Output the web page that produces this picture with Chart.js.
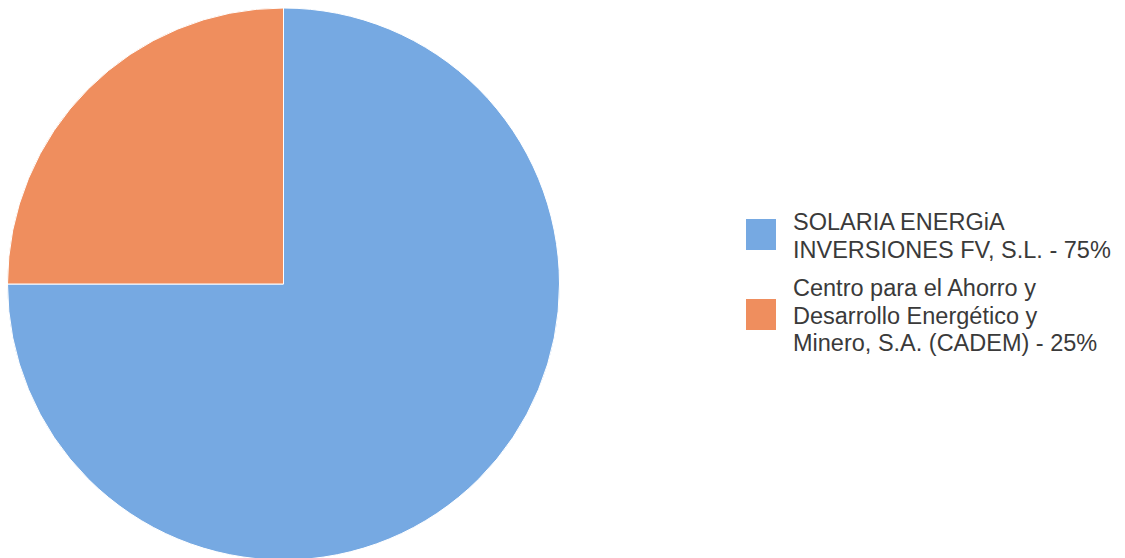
<!DOCTYPE html>
<html>
<head>
<meta charset="utf-8">
<script src="https://cdn.jsdelivr.net/npm/chart.js@4/dist/chart.umd.min.js"></script>
<style>
  html, body { margin: 0; padding: 0; background: #fff; width: 1125px; height: 558px; overflow: hidden; }
  #wrap { position: absolute; left: 0; top: 0; width: 567px; height: 568px; }
  #legend { position: absolute; left: 746px; top: 209px; font-family: "Liberation Sans", Arial, sans-serif; font-size: 23.5px; line-height: 27.5px; color: #3a3a3a; }
  .item { position: relative; padding-left: 47px; margin-bottom: 11px; white-space: nowrap; }
  .box { position: absolute; left: 0; width: 30px; height: 31px; }
</style>
</head>
<body>
<div id="wrap"><canvas id="c"></canvas></div>
<div id="legend"></div>
<script>
const categories = [
  ["SOLARIA ENERGiA", "INVERSIONES FV, S.L. - 75%"],
  ["Centro para el Ahorro y", "Desarrollo Energético y", "Minero, S.A. (CADEM) - 25%"]
];
const values = [75, 25];
const colors = ["#76A9E2", "#EF8E5E"];

const chart = new Chart(document.getElementById('c'), {
  type: 'pie',
  data: {
    labels: categories.map(l => l.join(' ')),
    datasets: [{ data: values, backgroundColor: colors, borderColor: '#ffffff', borderWidth: 1 }]
  },
  options: {
    responsive: true,
    maintainAspectRatio: false,
    animation: false,
    layout: { padding: 7 },
    plugins: { legend: { display: false }, tooltip: { enabled: false } }
  }
});

const legend = document.getElementById('legend');
chart.options.plugins.legend.labels.generateLabels(chart).forEach((it, i) => {
  const lines = categories[i];
  const item = document.createElement('div');
  item.className = 'item';
  const box = document.createElement('div');
  box.className = 'box';
  box.style.background = it.fillStyle;
  box.style.top = ((lines.length * 27.5) / 2 - 15.5 - 2) + 'px';
  item.appendChild(box);
  lines.forEach(t => { const d = document.createElement('div'); d.textContent = t; item.appendChild(d); });
  legend.appendChild(item);
});
</script>
</body>
</html>
